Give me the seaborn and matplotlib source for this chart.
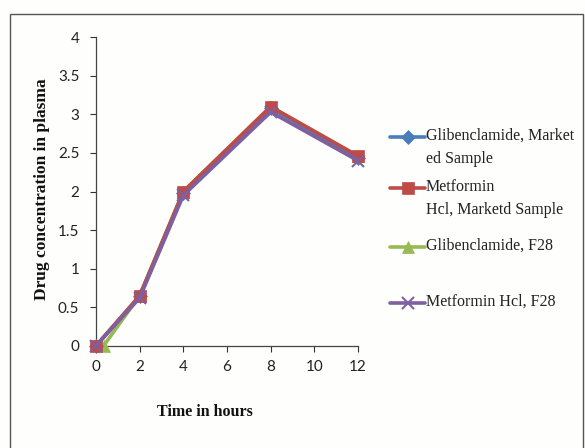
import matplotlib
matplotlib.use("Agg")
import matplotlib.pyplot as plt
from matplotlib.lines import Line2D
from matplotlib.patches import Rectangle
import seaborn as sns
import pandas as pd

# Plasma concentration profiles (time in hours)
time_h = [0, 2, 4, 8, 12]
time_h_glib_f28 = [0.35, 2, 4, 8, 12]
glib_marketed = [0, 0.64, 1.98, 3.08, 2.44]
metf_marketed = [0, 0.65, 2.0, 3.1, 2.46]
glib_f28 = [0, 0.65, 2.0, 3.1, 2.46]
metf_f28 = [0, 0.62, 1.95, 3.03, 2.40]

series_names = [
    "Glibenclamide, Market\ned Sample",
    "Metformin\nHcl, Marketd Sample",
    "Glibenclamide, F28",
    "Metformin Hcl, F28",
]
y_ticks = [0, 0.5, 1, 1.5, 2, 2.5, 3, 3.5, 4]
y_tick_labels = ["0", "0.5", "1", "1.5", "2", "2.5", "3", "3.5", "4"]
x_ticks = [0, 2, 4, 6, 8, 10, 12]

colors = ["#4A7EBB", "#BE4B48", "#98B954", "#7D60A0"]
markers = ["D", "s", "^", "x"]
msizes = [7, 9, 8, 8]
layer = [2, 3, 1, 4]

frames = []
for name, t, v in zip(series_names,
                      [time_h, time_h, time_h_glib_f28, time_h],
                      [glib_marketed, metf_marketed, glib_f28, metf_f28]):
    frames.append(pd.DataFrame({"time": t, "conc": v, "series": name}))
df = pd.concat(frames, ignore_index=True)

sns.set_style("white")
plt.rcParams["font.family"] = ["Lato", "DejaVu Sans"]

fig = plt.figure(figsize=(5.85, 4.48), dpi=100)
fig.patch.set_facecolor("#fefefc")
ax = fig.add_axes([0.164, 0.228, 0.448, 0.689])
ax.set_facecolor("#fefefc")

for i, name in enumerate(series_names):
    sub = df[df["series"] == name]
    sns.lineplot(data=sub, x="time", y="conc", ax=ax, color=colors[i],
                 marker=markers[i], markersize=msizes[i], linewidth=2.6,
                 markeredgecolor=colors[i],
                 markeredgewidth=1.5 if markers[i] == "x" else 0.5,
                 legend=False, zorder=2 + layer[i], estimator=None, sort=False)

ax.set_xlim(0, 12)
ax.set_ylim(0, 4)
ax.set_xticks(x_ticks)
ax.set_yticks(y_ticks)
ax.set_yticklabels(y_tick_labels)
ax.tick_params(axis="both", which="major", bottom=True, left=True,
               direction="out", length=4, width=0.8, color="#333333",
               labelsize=11, labelcolor="#222222", pad=6)
ax.tick_params(axis="y", pad=8)
for s in ["top", "right"]:
    ax.spines[s].set_visible(False)
for s in ["left", "bottom"]:
    ax.spines[s].set_color("#444444")
    ax.spines[s].set_linewidth(0.9)
    ax.spines[s].set_zorder(1)
for ln in ax.get_lines():
    ln.set_clip_on(False)

ax.set_xlabel("")
ax.set_ylabel("")
serif = ["Liberation Serif", "DejaVu Serif"]
fig.text(0.350, 0.080, "Time in hours", family=serif, fontweight="bold",
         fontsize=11.5, ha="center", va="center", color="#111111")
fig.text(0.072, 0.578, "Drug concentration in plasma", family=serif,
         fontweight="bold", fontsize=12.5, rotation=90, ha="center",
         va="center", color="#111111")

# Legend drawn in figure coordinates
W, H = 585.0, 448.0
legend_rows = [137, 188, 247, 303]
for i, (name, yp) in enumerate(zip(series_names, legend_rows)):
    yf = 1 - yp / H
    fig.add_artist(Line2D([390 / W, 425 / W], [yf, yf], color=colors[i],
                          linewidth=2.6, transform=fig.transFigure))
    fig.add_artist(Line2D([407.5 / W], [yf], color=colors[i], marker=markers[i],
                          markersize=msizes[i], markeredgecolor=colors[i],
                          markeredgewidth=1.5 if markers[i] == "x" else 0.5,
                          transform=fig.transFigure))
    fig.text(426 / W, yf + 9 / H, name, family=serif, fontsize=11.5, ha="left",
             va="top", color="#222222", linespacing=1.55,
             transform=fig.transFigure)

# Outer chart border
fig.add_artist(Rectangle((10 / W, -0.05), 573 / W, 1 - 14 / H + 0.05,
                         transform=fig.transFigure, fill=False,
                         edgecolor="#555555", linewidth=1.0))

fig.savefig("out.png", dpi=100, facecolor=fig.get_facecolor())
